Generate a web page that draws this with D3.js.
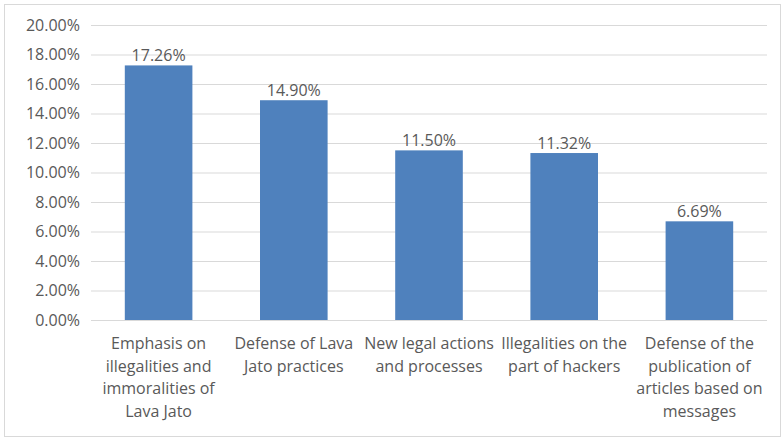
<!DOCTYPE html>
<html><head><meta charset="utf-8">
<script src="https://cdn.jsdelivr.net/npm/d3@7"></script>
<style>body{margin:0;background:#fff}svg{display:block}text{font-family:"Open Sans",sans-serif;fill:#595959}</style>
</head><body>
<svg id="c" width="782" height="439"></svg>
<script>
const categories = [
  "Emphasis on\nillegalities and\nimmoralities of\nLava Jato",
  "Defense of Lava\nJato practices",
  "New legal actions\nand processes",
  "Illegalities on the\npart of hackers",
  "Defense of the\npublication of\narticles based on\nmessages"
];
const values = [17.26, 14.90, 11.50, 11.32, 6.69];
const yTicks = [0, 2, 4, 6, 8, 10, 12, 14, 16, 18, 20];

const svg = d3.select("#c");
svg.append("rect").attr("x",4.5).attr("y",4.5).attr("width",776).attr("height",432)
  .attr("fill","#fff").attr("stroke","#d9d9d9");

const x = d3.scaleBand().domain(categories).range([91, 767]).paddingInner(0.5).paddingOuter(0.25);
const y = d3.scaleLinear().domain([0, 20]).range([320, 25]);

const gy = svg.append("g").attr("transform","translate(91,0)")
  .call(d3.axisLeft(y).tickValues(yTicks).tickSize(-676).tickPadding(11).tickFormat(d => d.toFixed(2) + "%"));
gy.select(".domain").remove();
gy.selectAll("line").attr("stroke","#d9d9d9");
gy.selectAll("text").attr("font-size",16).style("fill","#595959");

svg.selectAll("rect.bar").data(values).join("rect").attr("class","bar")
  .attr("x",(d,i)=>x(categories[i])).attr("width",x.bandwidth())
  .attr("y",d=>y(d)).attr("height",d=>y(0)-y(d)).attr("fill","#4f81bd");

svg.selectAll("text.val").data(values).join("text").attr("class","val")
  .attr("x",(d,i)=>x(categories[i])+x.bandwidth()/2).attr("y",d=>y(d)-4)
  .attr("text-anchor","middle").attr("font-size",16).text(d=>d.toFixed(2)+"%");

const gx = svg.append("g");
categories.forEach(c => {
  const t = gx.append("text").attr("text-anchor","middle").attr("font-size",16)
    .attr("x", x(c)+x.bandwidth()/2).attr("y", 349);
  c.split("\n").forEach((ln,j)=> t.append("tspan").attr("x", x(c)+x.bandwidth()/2).attr("dy", j?22.7:0).text(ln));
});
</script>
</body></html>
